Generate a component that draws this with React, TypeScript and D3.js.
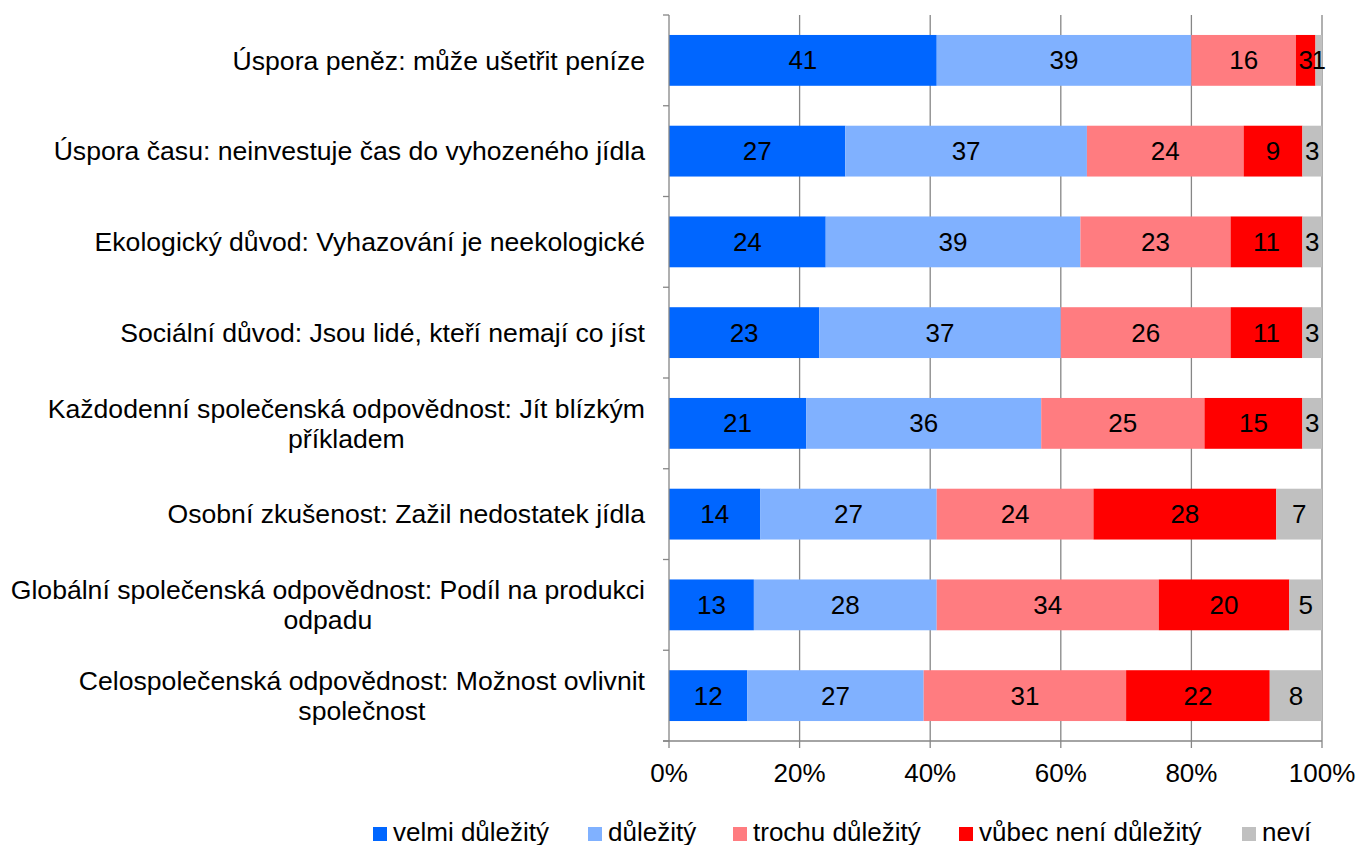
import React, { useEffect, useRef } from "react";
import * as d3 from "d3";

const categories: string[][] = [
  ["Úspora peněz: může ušetřit peníze"],
  ["Úspora času: neinvestuje čas do vyhozeného jídla"],
  ["Ekologický důvod: Vyhazování je neekologické"],
  ["Sociální důvod: Jsou lidé, kteří nemají co jíst"],
  ["Každodenní společenská odpovědnost: Jít blízkým", "příkladem"],
  ["Osobní zkušenost: Zažil nedostatek jídla"],
  ["Globální společenská odpovědnost: Podíl na produkci", "odpadu"],
  ["Celospolečenská odpovědnost: Možnost ovlivnit", "společnost"],
];

const seriesNames = ["velmi důležitý", "důležitý", "trochu důležitý", "vůbec není důležitý", "neví"];
const velmi = [41, 27, 24, 23, 21, 14, 13, 12];
const dulezity = [39, 37, 39, 37, 36, 27, 28, 27];
const trochu = [16, 24, 23, 26, 25, 24, 34, 31];
const vubec = [3, 9, 11, 11, 15, 28, 20, 22];
const nevi = [1, 3, 3, 3, 3, 7, 5, 8];
const colors = ["#0066FF", "#80B1FF", "#FF7C80", "#FF0000", "#C0C0C0"];
const xTicks = [0, 20, 40, 60, 80, 100];

const W = 1359;
const H = 845;
const FONT = "'Liberation Sans', Arial, sans-serif";
const FS = 26;
const FS_CAT = 26.6;

export default function App() {
  const ref = useRef<SVGSVGElement>(null);
  useEffect(() => {
    const svg = d3.select(ref.current);
    svg.selectAll("*").remove();
    const x0 = 669, x1 = 1322, y0 = 15, y1 = 741;
    const x = d3.scaleLinear().domain([0, 100]).range([x0, x1]);
    const idx = categories.map((_, i) => String(i));
    const y = d3.scaleBand().domain(idx).range([y0, y1]).paddingInner(0.44).paddingOuter(0.22);
    const step = y.step();
    const grey = "#868686";

    // gridlines
    svg.append("g").selectAll("line").data(xTicks.slice(1)).join("line")
      .attr("x1", d => x(d)).attr("x2", d => x(d)).attr("y1", y0).attr("y2", y1)
      .attr("stroke", grey).attr("stroke-width", 1.3);

    const rows = categories.map((_, i) => ({ i: String(i), v: [velmi[i], dulezity[i], trochu[i], vubec[i], nevi[i]] }));
    const keys = [0, 1, 2, 3, 4];
    const stack = d3.stack<any, number>().keys(keys as any).value((d: any, k: any) => d.v[k]);
    const stacked = stack(rows as any);

    const g = svg.append("g");
    stacked.forEach((layer, k) => {
      layer.forEach((seg: any) => {
        const r = seg.data;
        g.append("rect")
          .attr("x", x(seg[0])).attr("width", x(seg[1]) - x(seg[0]))
          .attr("y", y(r.i)!).attr("height", y.bandwidth())
          .attr("fill", colors[k]);
      });
    });
    stacked.forEach((layer) => {
      layer.forEach((seg: any) => {
        const r = seg.data;
        g.append("text")
          .attr("x", (x(seg[0]) + x(seg[1])) / 2)
          .attr("y", y(r.i)! + y.bandwidth() / 2)
          .attr("dy", "0.35em")
          .attr("text-anchor", "middle")
          .attr("font-family", FONT).attr("font-size", FS).attr("fill", "#000")
          .text(seg[1] - seg[0]);
      });
    });

    // y axis
    svg.append("line").attr("x1", x0).attr("x2", x0).attr("y1", y0).attr("y2", y1)
      .attr("stroke", grey).attr("stroke-width", 1.3);
    svg.append("g").selectAll("line").data(d3.range(categories.length + 1)).join("line")
      .attr("x1", x0 - 6).attr("x2", x0).attr("y1", d => y0 + d * step).attr("y2", d => y0 + d * step)
      .attr("stroke", grey).attr("stroke-width", 1.3);
    // x axis
    svg.append("line").attr("x1", x0 - 6).attr("x2", x1).attr("y1", y1).attr("y2", y1)
      .attr("stroke", grey).attr("stroke-width", 1.3);
    svg.append("g").selectAll("line").data(xTicks).join("line")
      .attr("x1", d => x(d)).attr("x2", d => x(d)).attr("y1", y1).attr("y2", y1 + 7)
      .attr("stroke", grey).attr("stroke-width", 1.3);
    svg.append("g").selectAll("text").data(xTicks).join("text")
      .attr("x", d => x(d)).attr("y", 782)
      .attr("text-anchor", "middle").attr("font-family", FONT).attr("font-size", FS)
      .text(d => d + "%");

    // category labels
    const labelRight = 645;
    categories.forEach((lines, i) => {
      const cy = y0 + (i + 0.5) * step;
      const t = svg.append("text").attr("font-family", FONT).attr("font-size", FS_CAT).attr("fill", "#000");
      if (lines.length === 1) {
        t.attr("x", labelRight).attr("y", cy).attr("dy", "0.35em").attr("text-anchor", "end").text(lines[0]);
      } else {
        const tmp = svg.append("text").attr("font-family", FONT).attr("font-size", FS_CAT).text(lines[0]);
        const w = (tmp.node() as SVGTextElement).getComputedTextLength();
        tmp.remove();
        const cx = labelRight - w / 2;
        lines.forEach((ln, j) => {
          t.append("tspan").attr("x", cx).attr("y", cy + (j - (lines.length - 1) / 2) * 30)
            .attr("dy", "0.35em").attr("text-anchor", "middle").text(ln);
        });
      }
    });

    // legend
    const legX = [373, 588, 733, 959, 1242];
    const lg = svg.append("g");
    seriesNames.forEach((n, k) => {
      lg.append("rect").attr("x", legX[k]).attr("y", 827).attr("width", 14).attr("height", 14).attr("fill", colors[k]);
      lg.append("text").attr("x", legX[k] + 20).attr("y", 841).attr("font-family", FONT).attr("font-size", FS).text(n);
    });
  }, []);
  return (
    <svg ref={ref} width={W} height={H} style={{ position: "absolute", left: 0, top: 0, background: "#fff" }} />
  );
}
